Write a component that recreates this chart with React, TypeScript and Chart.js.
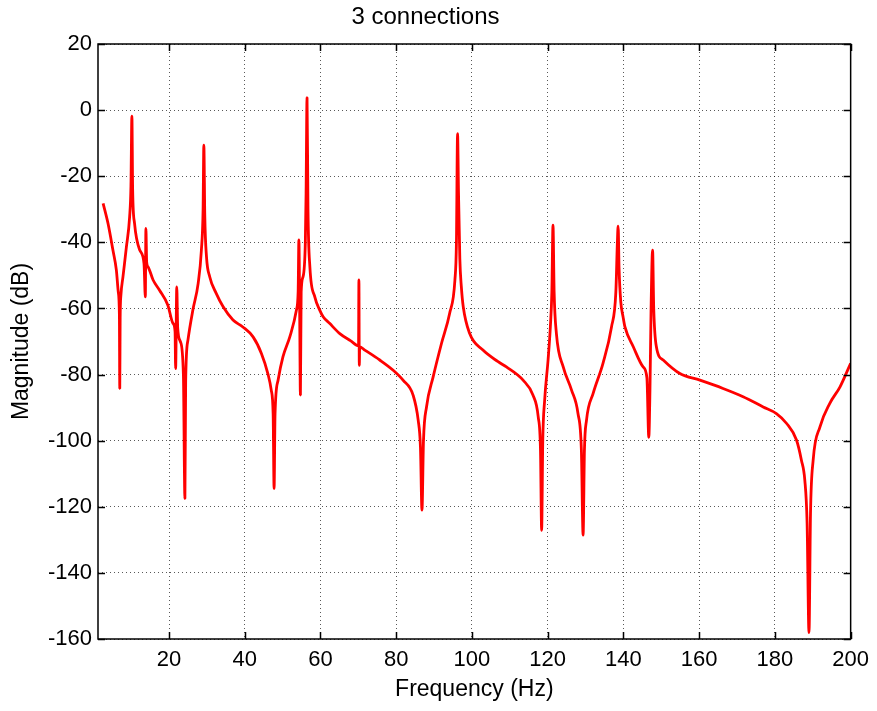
import React, { useEffect, useRef } from 'react';
import { Chart, registerables } from 'chart.js';

Chart.register(...registerables);

const chartTitle = '3 connections';
const xLabel = 'Frequency (Hz)';
const yLabel = 'Magnitude (dB)';

const xMin = 1.25;
const xMax = 200;
const yMin = -160;
const yMax = 20;

const xTicks = [20, 40, 60, 80, 100, 120, 140, 160, 180, 200];
const yTicks = [-160, -140, -120, -100, -80, -60, -40, -20, 0, 20];

const freqHz = [
  2.6, 3.9, 5.2, 6.1, 6.6, 6.9, 7.0, 7.1, 7.3, 7.85,
  8.75, 9.6, 9.95, 10.2, 10.4, 10.9, 12.3, 13.4, 13.75, 13.9,
  14.1, 14.45, 15.8, 17.5, 19.7, 21.05, 21.6, 21.75, 22.05, 22.3,
  23.0, 23.8, 24.2, 24.4, 25.0, 26.3, 27.7, 28.55, 29.0, 29.2,
  29.45, 29.9, 30.75, 32.5, 34.3, 36.9, 39.5, 42.2, 44.4, 46.1,
  47.0, 47.5, 47.75, 48.0, 48.8, 50.1, 51.9, 53.65, 54.1, 54.3,
  54.5, 54.7, 54.9, 55.4, 56.0, 56.2, 56.45, 56.7, 57.2, 58.5,
  59.8, 60.7, 62.4, 65.1, 68.0, 70.05, 70.15, 70.25, 70.35, 71.7,
  75.65, 79.2, 81.8, 84.45, 85.8, 86.4, 86.8, 87.2, 88.0, 89.75,
  91.95, 94.1, 95.5, 95.9, 96.2, 96.45, 96.8, 97.2, 97.7, 99.4,
  102.9, 106.9, 109.1, 113.5, 116.1, 117.5, 118.1, 118.4, 118.7, 119.2,
  120.1, 120.7, 121.1, 121.4, 121.7, 122.3, 124.1, 126.3, 128.0, 128.9,
  129.35, 129.7, 130.25, 132.0, 134.6, 136.85, 138.0, 138.4, 138.6, 138.85,
  139.3, 139.9, 140.4, 142.6, 145.2, 146.2, 146.7, 147.0, 147.3, 147.7,
  148.0, 148.7, 150.5, 154.9, 160.2, 166.3, 171.6, 176.9, 180.4, 183.1,
  185.7, 187.0, 187.9, 188.5, 189.0, 189.4, 190.1, 191.9, 194.5, 197.2,
  200.0,
];

const magDb = [
  -28.2, -34.3, -42.4, -48.4, -55, -62, -84.2, -63, -56, -50.4,
  -41.4, -32.3, -23, -1.8, -24, -34.3, -42.4, -46.4, -56.5, -35.8,
  -46, -47.4, -51.4, -54.5, -59, -64.5, -67, -78.2, -53.5, -66,
  -70, -80, -117.5, -82, -69.6, -60.5, -52.4, -42.4, -30, -10.6,
  -32, -44.4, -50.4, -55.5, -59.5, -63.5, -65.6, -68.6, -73.6, -79.7,
  -84.7, -92, -114.5, -92, -81.7, -74.6, -68.6, -60.5, -55, -39.3,
  -60, -86.2, -55, -50.4, -40, -25, 3.8, -30, -47.4, -56.5,
  -60.5, -62.5, -64.5, -67.6, -69.8, -71.3, -51.4, -77.2, -71.6, -72.6,
  -75.6, -78.7, -81.7, -86.2, -93.8, -102, -121, -100, -89.8, -80.7,
  -70.6, -61.5, -51.4, -40, -7.1, -25, -45, -53.5, -59.5, -67.6,
  -72.6, -76.1, -77.7, -81.7, -86.2, -92.8, -103, -127.1, -100, -87.7,
  -75.6, -65.6, -55, -34.8, -55, -67.6, -77.7, -84.7, -91.8, -103,
  -128.6, -103, -93.8, -85.7, -76.6, -65.6, -55, -40, -35.1, -48,
  -58, -62.5, -65.6, -71.6, -77.7, -81, -99, -85, -60, -42.4,
  -60, -71.6, -75.6, -79.7, -81.7, -84.2, -86.7, -89.8, -91.8, -94.8,
  -99.8, -105.9, -112, -125, -158.1, -122, -105.9, -95.8, -88.7, -83.7,
  -76.6,
];

const FONT = '"Liberation Sans", Arial, Helvetica, sans-serif';

const framePlugin = {
  id: 'matlabFrame',
  afterDraw(chart: any) {
    const { ctx, chartArea: a, scales } = chart;
    ctx.save();
    ctx.strokeStyle = '#000';
    ctx.lineWidth = 1.5;
    ctx.setLineDash([]);
    ctx.strokeRect(a.left, a.top, a.right - a.left, a.bottom - a.top);
    const tl = 7;
    ctx.beginPath();
    for (const v of xTicks) {
      const x = Math.round(scales.x.getPixelForValue(v)) + 0.5;
      ctx.moveTo(x, a.bottom);
      ctx.lineTo(x, a.bottom - tl);
      ctx.moveTo(x, a.top);
      ctx.lineTo(x, a.top + tl);
    }
    for (const v of yTicks) {
      const y = Math.round(scales.y.getPixelForValue(v)) + 0.5;
      ctx.moveTo(a.left, y);
      ctx.lineTo(a.left + tl, y);
      ctx.moveTo(a.right, y);
      ctx.lineTo(a.right - tl, y);
    }
    ctx.stroke();
    ctx.restore();
  },
};

export default function App() {
  const canvasRef = useRef<HTMLCanvasElement | null>(null);

  useEffect(() => {
    document.body.style.margin = '0';
    const canvas = canvasRef.current;
    if (!canvas) return;
    const points = freqHz.map((f, i) => ({ x: f, y: magDb[i] }));
    const gridStyle = {
      color: 'rgba(0,0,0,0.65)',
      lineWidth: 1,
      drawTicks: false,
    };
    const borderStyle = { display: false, dash: [1, 3] };
    const chart = new Chart(canvas, {
      type: 'line',
      data: {
        datasets: [
          {
            data: points,
            borderColor: '#ff0000',
            borderWidth: 2.8,
            pointRadius: 0,
            cubicInterpolationMode: 'monotone',
            fill: false,
            borderJoinStyle: 'bevel',
          },
        ],
      },
      options: {
        animation: false,
        responsive: false,
        devicePixelRatio: 1,
        layout: { padding: { left: 0, right: 26, top: 0, bottom: 0 } },
        plugins: {
          legend: { display: false },
          tooltip: { enabled: false },
          title: {
            display: true,
            text: chartTitle,
            color: '#000',
            font: { family: FONT, size: 24, weight: 'normal' },
            padding: { top: 2.6, bottom: 12.6 },
          },
        },
        scales: {
          x: {
            type: 'linear',
            min: xMin,
            max: xMax,
            afterBuildTicks: (scale: any) => {
              scale.ticks = xTicks.map((v) => ({ value: v }));
            },
            afterFit: (scale: any) => {
              scale.height = 72;
            },
            grid: gridStyle,
            border: borderStyle,
            ticks: {
              color: '#000',
              font: { family: FONT, size: 22 },
              padding: 8,
              maxRotation: 0,
              autoSkip: false,
              callback: (v: any) => String(v),
            },
            title: {
              display: true,
              text: xLabel,
              color: '#000',
              font: { family: FONT, size: 23 },
              padding: { top: 0, bottom: 8 },
            },
          },
          y: {
            type: 'linear',
            min: yMin,
            max: yMax,
            afterBuildTicks: (scale: any) => {
              scale.ticks = yTicks.map((v) => ({ value: v }));
            },
            afterFit: (scale: any) => {
              scale.width = 98;
            },
            grid: gridStyle,
            border: borderStyle,
            ticks: {
              color: '#000',
              font: { family: FONT, size: 22 },
              padding: 6,
              autoSkip: false,
              callback: (v: any) => String(v),
            },
            title: {
              display: true,
              text: yLabel,
              color: '#000',
              font: { family: FONT, size: 23 },
              padding: { top: 8, bottom: 0 },
            },
          },
        },
      },
      plugins: [framePlugin],
    } as any);
    return () => chart.destroy();
  }, []);

  return <canvas ref={canvasRef} width={877} height={711} style={{ display: 'block' }} />;
}
